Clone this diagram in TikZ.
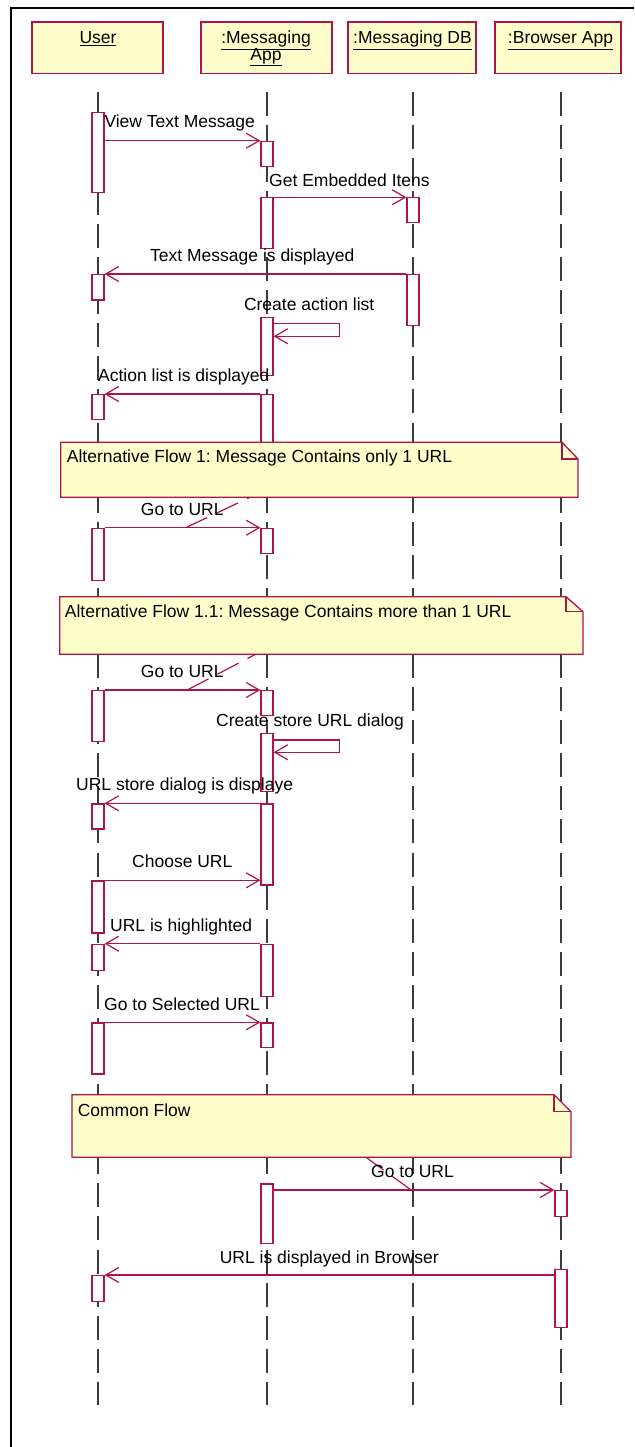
\documentclass[tikz,border=0pt]{standalone}
\usepackage{fontspec}
\setmainfont{Liberation Sans}
\usetikzlibrary{arrows.meta,calc}
\definecolor{umlred}{RGB}{175,20,70}
\definecolor{umlyellow}{RGB}{255,255,204}
\definecolor{lifegrey}{RGB}{60,60,60}
\frenchspacing
\begin{document}
\begin{tikzpicture}[x=1pt,y=-1pt,
  head/.style={draw=umlred, fill=umlyellow, line width=1.3pt, minimum height=51.3pt, inner sep=0pt},
  headtext/.style={anchor=base, inner sep=0pt, font=\fontsize{17.5}{18}\selectfont, text=black},
  life/.style={draw=lifegrey, line width=1.4pt, dash pattern=on 24pt off 9.08pt},
  bar/.style={draw=umlred, fill=white, line width=1.2pt, minimum width=12pt, inner sep=0pt, anchor=north},
  msg/.style={draw=umlred, line width=1.2pt, -{Straight Barb[length=13pt,width=15pt,line width=1.2pt]}},
  lbl/.style={anchor=base west, inner sep=0pt, font=\fontsize{17.5}{18}\selectfont, text=black},
  note/.style={draw=umlred, fill=umlyellow, line width=1.3pt},
  anchorline/.style={draw=umlred, line width=1.2pt, dash pattern=on 24pt off 10pt},
]
\useasboundingbox (0,0) rectangle (634,1447);
\fill[white] (0,0) rectangle (634,1447);
% frame
\draw[line width=2.5pt, black] (11,1447) -- (11,8) -- (634,8);

% headers
\node[head, minimum width=131pt] (user) at (97.5,47.65) {};
\node[head, minimum width=131pt] (app) at (266.5,47.65) {};
\node[head, minimum width=128pt] (db) at (412,47.65) {};
\node[head, minimum width=126pt] (browser) at (558,47.65) {};
\node[headtext] (tUser) at (98,44) {\underline{User}};
\node[headtext] (tApp1) at (266,44) {\underline{:Messaging}};
\node[headtext] (tApp2) at (266,60.5) {\underline{App}};
\node[headtext] (tDb) at (412.5,44) {\underline{:Messaging DB}};
\node[headtext] (tBr) at (560.5,44) {\underline{:Browser App}};

% lifelines
\coordinate (uT) at (98,91.7);  \coordinate (uB) at (98,1405);
\coordinate (aT) at (267,91.7); \coordinate (aB) at (267,1405);
\coordinate (dT) at (413,91.7); \coordinate (dB) at (413,1405);
\coordinate (bT) at (561,91.7); \coordinate (bB) at (561,1405);
\draw[life] (uT) -- (uB);
\draw[life] (aT) -- (aB);
\draw[life] (dT) -- (dB);
\draw[life] (bT) -- (bB);

% activation bars
\node[bar, minimum height=80pt]   (ub1)  at (98,111.7) {};
\node[bar, minimum height=25pt]   (ab1)  at (267,140.7) {};
\node[bar, minimum height=50.4pt] (ab2)  at (267,197.3) {};
\node[bar, minimum height=25pt]   (db1)  at (413,197.3) {};
\node[bar, minimum height=51pt]   (db2)  at (413,274) {};
\node[bar, minimum height=25.3pt] (ub2)  at (98,274) {};
\node[bar, minimum height=58.3pt] (ab3)  at (267,316.7) {};
\node[bar, minimum height=66pt]   (ab4)  at (267,394) {};
\node[bar, minimum height=25pt]   (ub3)  at (98,394) {};
\node[bar, minimum height=52.3pt] (ub4)  at (98,527.7) {};
\node[bar, minimum height=25pt]   (ab5)  at (267,527.7) {};
\node[bar, minimum height=51pt]   (ub5)  at (98,690) {};
\node[bar, minimum height=24.7pt] (ab6)  at (267,690) {};
\node[bar, minimum height=58.3pt] (ab7)  at (267,732.7) {};
\node[bar, minimum height=81pt]   (ab8)  at (267,803.3) {};
\node[bar, minimum height=25pt]   (ub6)  at (98,803.3) {};
\node[bar, minimum height=52pt]   (ub7)  at (98,880.3) {};
\node[bar, minimum height=26pt]   (ub8)  at (98,943.7) {};
\node[bar, minimum height=52.3pt] (ab9)  at (267,943.7) {};
\node[bar, minimum height=51pt]   (ub9)  at (98,1022.3) {};
\node[bar, minimum height=24.4pt] (ab10) at (267,1022.3) {};
\node[bar, minimum height=59.4pt] (ab11) at (267,1183.3) {};
\node[bar, minimum height=26pt]   (bb1)  at (561,1190) {};
\node[bar, minimum height=58pt]   (bb2)  at (561,1268.7) {};
\node[bar, minimum height=25.7pt] (ub10) at (98,1275) {};

% messages
\draw[msg] (ub1.east |- ab1.north) -- (ab1.north west);
\draw[msg] (ab2.east |- db1.north) -- (db1.north west);
\draw[msg] (db2.north west) -- (ub2.north east);
\draw[msg] ($(ab3.north east)+(0,7)$) -- ++(65.5,0) -- ++(0,12.6) -- ++(-65.5,0);
\draw[msg] (ab4.north west) -- (ub3.north east);
\draw[msg] (ub4.north east) -- (ab5.north west);
\draw[msg] (ub5.north east) -- (ab6.north west);
\draw[msg] ($(ab7.north east)+(0,7.3)$) -- ++(65.5,0) -- ++(0,12.3) -- ++(-65.5,0);
\draw[msg] (ab8.north west) -- (ub6.north east);
\draw[msg] (ub7.north east) -- (ab8.west |- ub7.north);
\draw[msg] (ab9.north west) -- (ub8.north east);
\draw[msg] (ub9.north east) -- (ab10.north west);
\draw[msg] (ab11.east |- bb1.north) -- (bb1.north west);
\draw[msg] (bb2.west |- ub10.north) -- (ub10.north east);

% notes
\draw[note] (60.7,442.3) -- (562,442.3) -- (578,459) -- (578,497.3) -- (60.7,497.3) -- cycle;
\draw[note, fill=none] (562,442.3) -- (562,459) -- (578,459);
\draw[note] (59.8,596.7) -- (566,596.7) -- (583,611.7) -- (583,654.3) -- (59.8,654.3) -- cycle;
\draw[note, fill=none] (566,596.7) -- (566,611.7) -- (583,611.7);
\draw[note] (72,1094.7) -- (554,1094.7) -- (571,1111.7) -- (571,1157.3) -- (72,1157.3) -- cycle;
\draw[note, fill=none] (554,1094.7) -- (554,1111.7) -- (571,1111.7);
\node[lbl] (n1) at (66.7,462) {Alternative Flow 1: Message Contains only 1 URL};
\node[lbl] (n2) at (64.7,617) {Alternative Flow 1.1: Message Contains more than 1 URL};
\node[lbl] (n3) at (77.6,1116) {Common Flow};

% note anchors
\coordinate (n1b) at (250,497.3);
\coordinate (n2b) at (255.6,654.3);
\coordinate (n3b) at (366,1157.3);
\draw[anchorline] ($(ub4.north east)!0.52!(ab5.north west)$) -- (n1b);
\draw[anchorline] ($(ub5.north east)!0.53!(ab6.north west)$) -- (n2b);
\draw[anchorline] ($(ab11.east |- bb1.north)!0.49!(bb1.north west)$) -- (n3b);

% labels
\node[lbl] (l1)  at (104.3,128)  {View Text Message};
\node[lbl] (l2)  at (269,186.5)  {Get Embedded Itens};
\node[lbl] (l3)  at (150,261.5)  {Text Message is displayed};
\node[lbl] (l4)  at (243.8,310.5) {Create action list};
\node[lbl] (l5)  at (98,381.5)   {Action list is displayed};
\node[lbl] (l6)  at (140.7,515)  {Go to URL};
\node[lbl] (l7)  at (140.7,677)  {Go to URL};
\node[lbl] (l8)  at (216,726.5)  {Create store URL dialog};
\node[lbl] (l9)  at (76,790)     {URL store dialog is displaye};
\node[lbl] (l10) at (132,867.5)  {Choose URL};
\node[lbl] (l11) at (110,931)    {URL is highlighted};
\node[lbl] (l12) at (104,1010)   {Go to Selected URL};
\node[lbl] (l13) at (371,1177.5) {Go to URL};
\node[lbl] (l14) at (219.6,1263) {URL is displayed in Browser};
\end{tikzpicture}
\end{document}
